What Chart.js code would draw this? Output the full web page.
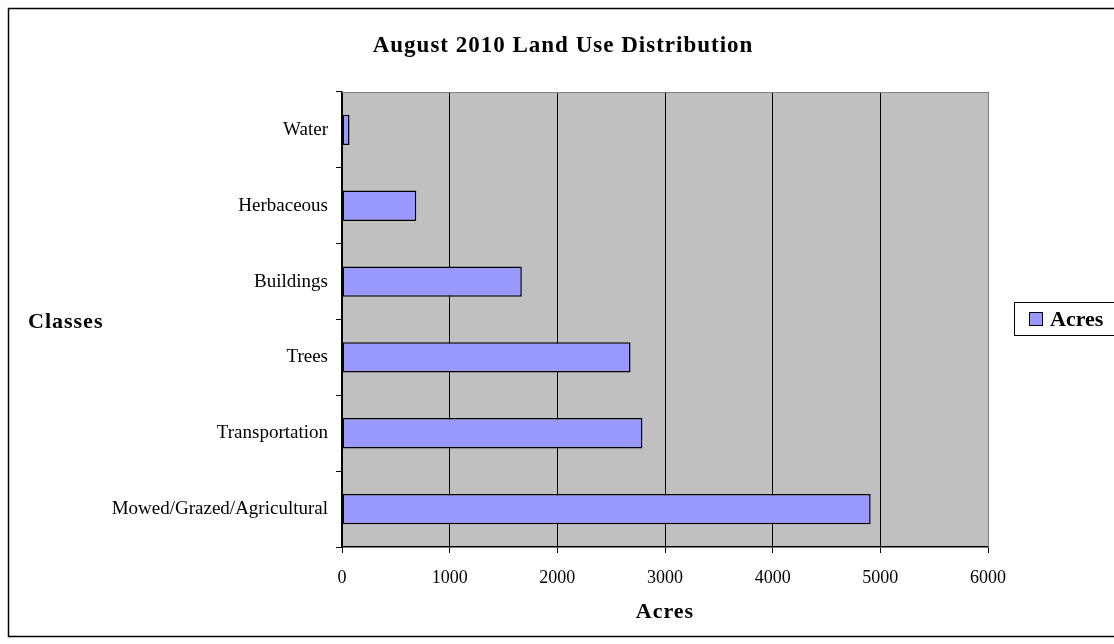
<!DOCTYPE html>
<html>
<head>
<meta charset="utf-8">
<title>August 2010 Land Use Distribution</title>
<script src="https://cdn.jsdelivr.net/npm/chart.js@4.4.1/dist/chart.umd.min.js"></script>
<style>
  html, body { margin: 0; padding: 0; background: #ffffff; }
  #wrap { width: 1114px; height: 644px; position: relative; }
</style>
</head>
<body>
<div id="wrap"><canvas id="landUse"></canvas></div>
<script>
// land use classes, top to bottom
const classes = ["Water", "Herbaceous", "Buildings", "Trees", "Transportation", "Mowed/Grazed/Agricultural"];
const acres = [70, 690, 1670, 2680, 2790, 4910];
const acreTicks = [0, 1000, 2000, 3000, 4000, 5000, 6000];

const chartTitle = "August 2010 Land Use Distribution";
const seriesName = "Acres";
const yTitle = "Classes";
const xTitle = "Acres";

const FONT = "'Liberation Serif', 'Times New Roman', serif";
const BAR_FILL = "#9999FF";

// frame, titles and the boxed legend are drawn by hand
const decorations = {
  id: "decorations",
  beforeDraw(chart) {
    const ctx = chart.ctx;
    const area = chart.chartArea;
    ctx.save();
    ctx.fillStyle = "#C0C0C0";
    ctx.fillRect(area.left, area.top, area.right - area.left, area.bottom - area.top);
    ctx.restore();
  },
  afterDraw(chart) {
    const ctx = chart.ctx;
    const area = chart.chartArea;
    ctx.save();

    // outer frame
    ctx.strokeStyle = "#000000";
    ctx.lineWidth = 1.5;
    ctx.beginPath();
    ctx.moveTo(1120, 8.5);
    ctx.lineTo(8.5, 8.5);
    ctx.lineTo(8.5, 636.5);
    ctx.lineTo(1120, 636.5);
    ctx.stroke();

    // plot border on top and right
    ctx.strokeStyle = "#808080";
    ctx.lineWidth = 1;
    ctx.beginPath();
    ctx.moveTo(area.left, area.top + 0.5);
    ctx.lineTo(area.right + 0.5, area.top + 0.5);
    ctx.lineTo(area.right + 0.5, area.bottom);
    ctx.stroke();

    ctx.fillStyle = "#000000";
    ctx.textBaseline = "middle";

    ctx.font = "bold 23px " + FONT;
    ctx.textAlign = "center";
    ctx.letterSpacing = "1px";
    ctx.fillText(chartTitle, 563, 46);

    ctx.font = "bold 22px " + FONT;
    ctx.textAlign = "left";
    ctx.fillText(yTitle, 28, 322);

    ctx.textAlign = "center";
    ctx.fillText(xTitle, (area.left + area.right) / 2, 612);
    ctx.letterSpacing = "0px";

    // legend box
    ctx.lineWidth = 1;
    ctx.strokeStyle = "#000000";
    ctx.strokeRect(1014.5, 302.5, 200, 33);
    ctx.fillStyle = chart.data.datasets[0].backgroundColor;
    ctx.fillRect(1029.5, 312.5, 13, 13);
    ctx.strokeRect(1029.5, 312.5, 13, 13);
    ctx.fillStyle = "#000000";
    ctx.textAlign = "left";
    ctx.fillText(chart.data.datasets[0].label, 1050, 320);

    ctx.restore();
  }
};

new Chart(document.getElementById("landUse"), {
  type: "bar",
  data: {
    labels: classes,
    datasets: [{
      label: seriesName,
      data: acres,
      backgroundColor: BAR_FILL,
      borderColor: "#000000",
      borderWidth: 1.5,
      borderSkipped: false,
      categoryPercentage: 1,
      barPercentage: 0.4
    }]
  },
  options: {
    indexAxis: "y",
    responsive: true,
    maintainAspectRatio: false,
    animation: false,
    layout: { padding: { left: 0, top: 92, right: 126, bottom: 0 } },
    plugins: {
      legend: { display: false },
      title: { display: false },
      tooltip: { enabled: false }
    },
    scales: {
      x: {
        type: "linear",
        min: 0,
        max: 6000,
        afterBuildTicks(scale) {
          scale.ticks = acreTicks.map(v => ({ value: v }));
        },
        afterFit(scale) { scale.height = 97; },
        grid: {
          color: "#000000",
          lineWidth: 1,
          drawTicks: true,
          tickLength: 6,
          tickColor: "#000000"
        },
        border: { display: true, color: "#000000", width: 1.5 },
        ticks: {
          color: "#000000",
          padding: 14,
          maxRotation: 0,
          font: { family: FONT, size: 18 },
          callback: v => String(v)
        }
      },
      y: {
        afterFit(scale) { scale.width = 342; },
        grid: {
          drawOnChartArea: false,
          drawTicks: true,
          tickLength: 6,
          tickColor: "#000000",
          offset: true
        },
        border: { display: true, color: "#000000", width: 1.5 },
        ticks: {
          color: "#000000",
          padding: 8,
          font: { family: FONT, size: 19 }
        }
      }
    }
  },
  plugins: [decorations]
});
</script>
</body>
</html>
